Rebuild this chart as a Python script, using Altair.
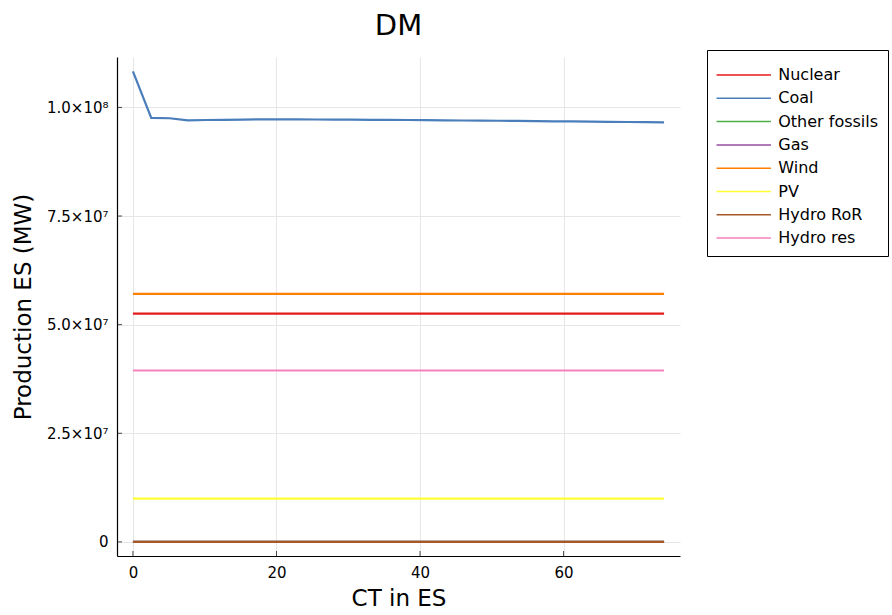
import altair as alt
import pandas as pd

# ---- data ----
ct = [0.0, 2.55, 5.1, 7.66, 10.21, 12.76, 15.31, 17.86, 20.41, 22.97,
      25.52, 28.07, 30.62, 33.17, 35.72, 38.28, 40.83, 43.38, 45.93, 48.48,
      51.03, 53.59, 56.14, 58.69, 61.24, 63.79, 66.34, 68.9, 71.45, 74.0]

coal = [1.083e8, 9.76e7, 9.75e7, 9.70e7, 9.71e7, 9.715e7, 9.72e7, 9.724e7, 9.724e7, 9.723e7,
        9.722e7, 9.72e7, 9.718e7, 9.715e7, 9.712e7, 9.71e7, 9.706e7, 9.70e7, 9.698e7, 9.695e7,
        9.693e7, 9.69e7, 9.685e7, 9.68e7, 9.678e7, 9.672e7, 9.668e7, 9.664e7, 9.66e7, 9.655e7]

series = ["Nuclear", "Coal", "Other fossils", "Gas", "Wind", "PV", "Hydro RoR", "Hydro res"]
colors = ["#e41a1c", "#4a7ebb", "#4daf4a", "#984ea3", "#ff7f00", "#ffff33", "#a65628", "#f781bf"]
# constant production levels of the flat series
levels = {"Nuclear": 5.255e7, "Other fossils": 0.0, "Gas": 0.0, "Wind": 5.708e7,
          "PV": 9.95e6, "Hydro RoR": 0.0, "Hydro res": 3.945e7}

x_ticks = [0, 20, 40, 60]
y_ticks = [0, 2.5e7, 5.0e7, 7.5e7, 1.0e8]

x_dom = [-2.22, 76.22]
y_dom = [-3.25e6, 1.116e8]

rows = []
for s in series:
    vals = coal if s == "Coal" else [levels[s]] * len(ct)
    for xv, yv in zip(ct, vals):
        rows.append({"CT": xv, "Production": yv, "Series": s})
df = pd.DataFrame(rows)

FONT = "DejaVu Sans"

xs = alt.Scale(domain=x_dom, nice=False, zero=False)
ys = alt.Scale(domain=y_dom, nice=False, zero=False)
cs = alt.Scale(domain=series, range=colors)

ylabel = ("datum.value == 0 ? '0' : (datum.value >= 1e8 ? '1.0×10⁸' : "
          "format(datum.value / 1e7, '.1f') + '×10⁷')")

x_axis = alt.Axis(values=x_ticks, title="CT in ES", ticks=False, labelPadding=9, titlePadding=7)
y_axis = alt.Axis(values=y_ticks, title="Production ES (MW)", ticks=False,
                  labelExpr=ylabel, labelPadding=9, titlePadding=11)

layers = []
for i, s in enumerate(series):
    if i == 0:
        xe = alt.X("CT:Q", scale=xs, axis=x_axis)
        ye = alt.Y("Production:Q", scale=ys, axis=y_axis)
    else:
        xe = alt.X("CT:Q", scale=xs)
        ye = alt.Y("Production:Q", scale=ys)
    layers.append(
        alt.Chart(df).transform_filter(alt.datum.Series == s)
        .mark_line(strokeWidth=2.2, clip=True)
        .encode(x=xe, y=ye,
                color=alt.Color("Series:N", scale=cs, sort=series, legend=alt.Legend(title=" ")))
    )

xt = pd.DataFrame({"CT": x_ticks})
yt = pd.DataFrame({"Production": y_ticks})
xtick_layer = alt.Chart(xt).mark_tick(orient="vertical", size=5, thickness=1, color="black",
                                      yOffset=-2.5).encode(
    x=alt.X("CT:Q", scale=xs), y=alt.datum(y_dom[0], scale=ys))
ytick_layer = alt.Chart(yt).mark_tick(orient="horizontal", size=5, thickness=1, color="black",
                                      xOffset=2.5).encode(
    y=alt.Y("Production:Q", scale=ys), x=alt.datum(x_dom[0], scale=xs))

chart = alt.layer(*layers, xtick_layer, ytick_layer).properties(
    width=563, height=499,
    title=alt.TitleParams("DM", fontSize=29, font=FONT, fontWeight="normal", offset=9, anchor="middle"),
    autosize=alt.AutoSizeParams(type="none"),
    padding={"left": 117, "top": 57, "right": 212, "bottom": 59},
).configure_view(stroke=None).configure_axis(
    labelFont=FONT, titleFont=FONT, labelFontSize=15, titleFontSize=23,
    titleFontWeight="normal", labelColor="black", titleColor="black",
    domainColor="black", domainWidth=1.2, gridColor="#e6e6e6", gridWidth=1,
).configure_legend(
    orient="none", legendX=590, legendY=-7, symbolType="M-2.72,0L2.72,0", symbolSize=400,
    symbolStrokeWidth=1.5, symbolOffset=16.75, labelFont=FONT, labelFontSize=16, labelColor="black",
    titleFontSize=1, titlePadding=4,
    strokeColor="black", fillColor="white", padding=9, rowPadding=4.3, labelOffset=23.5,
    cornerRadius=0,
)

chart.save("out.html", embed_options={"renderer": "svg", "actions": False})
